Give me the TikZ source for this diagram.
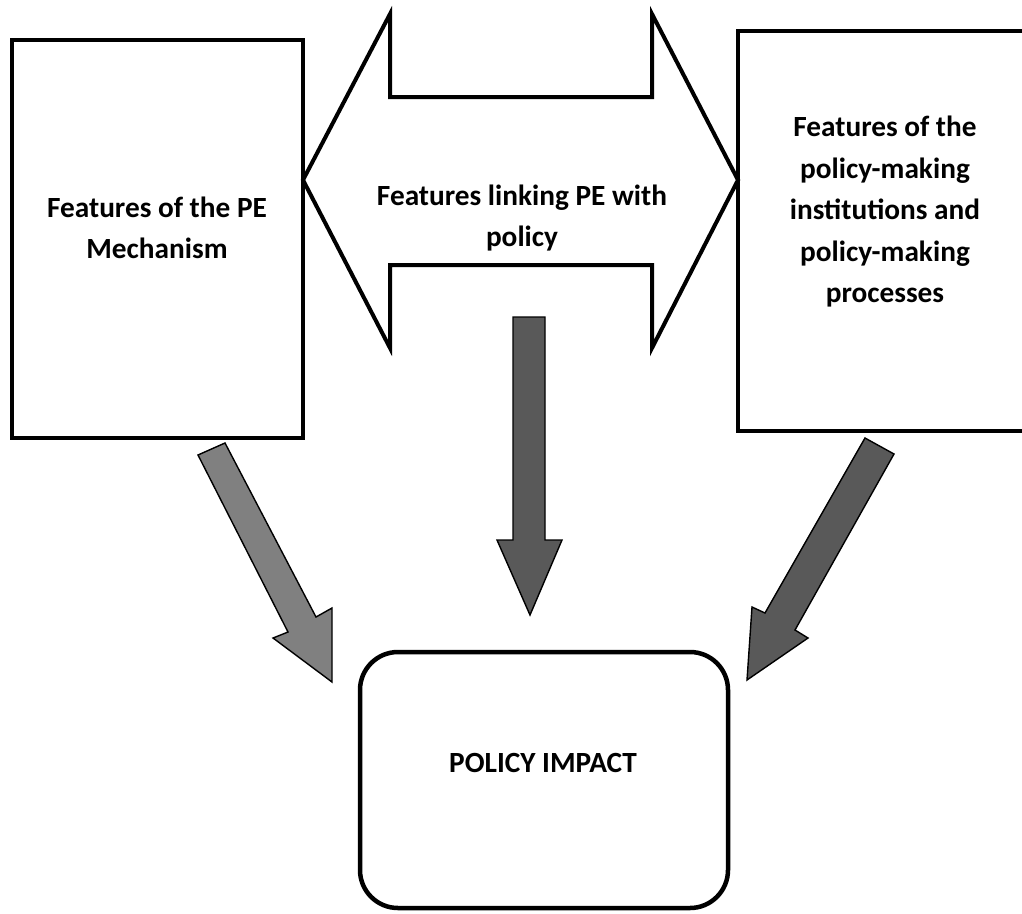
\documentclass[tikz,border=0pt]{standalone}
\usepackage{fontspec}
\setmainfont{Carlito}
\definecolor{lightarrow}{HTML}{808080}
\definecolor{darkarrow}{HTML}{595959}
\tikzset{
  box/.style={draw=black, line width=4.5pt, fill=white, inner sep=0pt},
  label/.style={font=\bfseries\fontsize{29.3}{41.5}\selectfont, align=center, inner sep=0pt},
  fat/.style={draw=black, line width=1.4pt, line join=miter},
}
\begin{document}
\begin{tikzpicture}[x=1pt,y=-1pt]
\clip (0,0) rectangle (1022,913);
\fill[white] (0,0) rectangle (1022,913);
% boxes
\node[box, minimum width=291pt, minimum height=398pt] (mech) at (157.5,239) {};
\node[box, minimum width=320pt, minimum height=400pt] (inst) at (898,231) {};
\node[box, rounded corners=38pt, minimum width=368pt, minimum height=256pt] (impact) at (544,780) {};
% double arrow
\draw[line width=4pt, line join=miter, fill=white]
  (303,180) -- (390,14) -- (390,97) -- (652,97) -- (652,14) -- (738,180)
  -- (652,348) -- (652,265) -- (390,265) -- (390,348) -- cycle;
% labels
\node[label] (mechtext) at (157,228) {Features of the PE\\Mechanism};
\node[label] (linktext) at (522,218) {Features linking PE with\\policy};
\node[label] (insttext) at (885,212) {Features of the\\policy-making\\institutions and\\policy-making\\processes};
\node[label] (impacttext) at (543,763) {POLICY IMPACT};
% fat arrows
\draw[fat, fill=lightarrow]
  (198,455) -- (225,443) -- (316,617) -- (332,608) -- (332,682) -- (273,638) -- (288,632) -- cycle;
\draw[fat, fill=darkarrow]
  (513,317) -- (545,317) -- (545,540) -- (562,540) -- (530,615) -- (497,540) -- (513,540) -- cycle;
\draw[fat, fill=darkarrow]
  (865,438) -- (894,454) -- (795,630) -- (808,638) -- (747,680) -- (752,607) -- (765,613) -- cycle;
\end{tikzpicture}
\end{document}
